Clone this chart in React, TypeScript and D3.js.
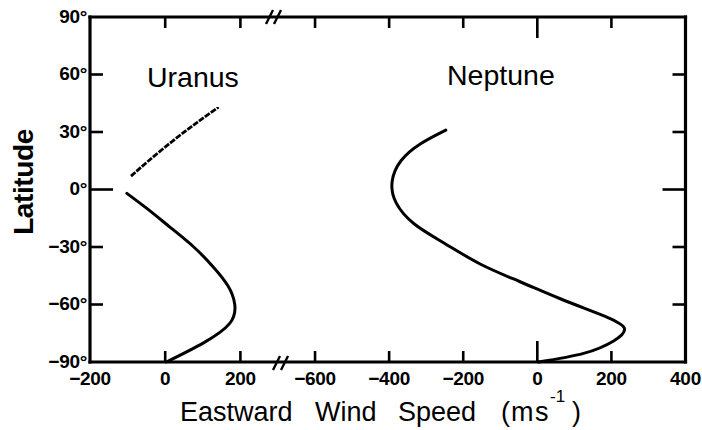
import React from "react";
import * as d3 from "d3";

// latitudes (deg) and eastward wind (m/s)
const uranusNorthLat = [7, 15, 25, 34, 43];
const uranusNorthWind = [-91, -44, 18, 78, 142];

const uranusSouthLat = [-2, -10, -20, -30, -40, -50, -60, -70, -80, -90];
const uranusSouthWind = [-102, -48, 15, 76, 126, 166, 185, 171, 102, 3];

const neptuneLat = [31, 24, 15, 4, -7, -18, -28, -39, -48, -57, -65, -72, -79, -85.5, -90];
const neptuneWind = [-247, -314, -368, -392, -381, -332, -251, -153, -48, 62, 168, 234, 206, 125, 3];

const latTicks = [-90, -60, -30, 0, 30, 60, 90];
const leftTicks = [-200, 0, 200];
const rightTicks = [-600, -400, -200, 0, 200, 400];

const W = 702;
const H = 430;
const TOP = 17;
const BOTTOM = 362;
const LEFT = 90;
const RIGHT = 685.5;
const BREAK_X = 278;

const FONT = "'Liberation Sans', Arial, Helvetica, sans-serif";

const xLeft = d3.scaleLinear().domain([-200, 300]).range([LEFT, BREAK_X]);
const xRight = d3.scaleLinear().domain([-700, 400]).range([BREAK_X, RIGHT]);
const y = d3.scaleLinear().domain([-90, 90]).range([BOTTOM, TOP]);

const fmtLat = (d: number) => (d < 0 ? "\u2212" + Math.abs(d) : String(d)) + "\u00b0";
const fmtWind = (d: number) => (d < 0 ? "\u2212" + Math.abs(d) : String(d));

function curve(xs: d3.ScaleLinear<number, number>, lats: number[], winds: number[]) {
  const pts: [number, number][] = lats.map((l, i) => [xs(winds[i]), y(l)]);
  return d3.line().curve(d3.curveNatural)(pts) || "";
}

function Slashes({ cx, cy }: { cx: number; cy: number }) {
  return (
    <g stroke="#000" strokeWidth={2.4}>
      <line x1={cx - 8} y1={cy + 7} x2={cx - 1} y2={cy - 7} />
      <line x1={cx} y1={cy + 7} x2={cx + 7} y2={cy - 7} />
    </g>
  );
}

export default function App() {
  const tickLen = 11;
  const longTick = 21;

  const innerLeft = leftTicks.filter((t) => t > -200);
  const innerRight = rightTicks.filter((t) => t < 400);
  const innerLat = latTicks.filter((t) => t > -90 && t < 90);

  return (
    <svg
      width={W}
      height={H}
      style={{ position: "absolute", left: 0, top: 0, background: "#fff" }}
      fontFamily={FONT}
    >
      {/* frame */}
      <g stroke="#000" strokeWidth={3.2} fill="none" strokeLinecap="square">
        <line x1={LEFT} y1={TOP} x2={RIGHT} y2={TOP} />
        <line x1={LEFT} y1={BOTTOM} x2={RIGHT} y2={BOTTOM} />
        <line x1={LEFT} y1={TOP} x2={LEFT} y2={BOTTOM} />
        <line x1={RIGHT} y1={TOP} x2={RIGHT} y2={BOTTOM} />
      </g>

      {/* x ticks, top and bottom, pointing inward */}
      <g stroke="#000" strokeWidth={2.6}>
        {innerLeft.map((t) => (
          <g key={"l" + t}>
            <line x1={xLeft(t)} x2={xLeft(t)} y1={TOP} y2={TOP + tickLen} />
            <line x1={xLeft(t)} x2={xLeft(t)} y1={BOTTOM} y2={BOTTOM - tickLen} />
          </g>
        ))}
        {innerRight.map((t) => {
          const len = t === 0 ? longTick : tickLen;
          return (
            <g key={"r" + t}>
              <line x1={xRight(t)} x2={xRight(t)} y1={TOP} y2={TOP + len} />
              <line x1={xRight(t)} x2={xRight(t)} y1={BOTTOM} y2={BOTTOM - len} />
            </g>
          );
        })}
        {innerLat.map((t) => {
          const len = t === 0 ? longTick + 2 : tickLen + 2;
          return (
            <g key={"y" + t}>
              <line x1={LEFT} x2={LEFT + len} y1={y(t)} y2={y(t)} />
              <line x1={RIGHT} x2={RIGHT - len} y1={y(t)} y2={y(t)} />
            </g>
          );
        })}
      </g>

      {/* axis breaks */}
      <Slashes cx={BREAK_X - 4} cy={TOP} />
      <Slashes cx={BREAK_X + 3} cy={BOTTOM + 1} />

      {/* tick labels */}
      <g fontWeight="bold" fontSize={19} letterSpacing={-0.3} fill="#000">
        {latTicks.map((t) => (
          <text key={"yl" + t} x={87} y={y(t) - 1} dy="0.35em" textAnchor="end">
            {fmtLat(t)}
          </text>
        ))}
        {leftTicks.map((t) => (
          <text key={"xl" + t} x={xLeft(t)} y={385} textAnchor="middle">
            {fmtWind(t)}
          </text>
        ))}
        {rightTicks.map((t) => (
          <text key={"xr" + t} x={xRight(t)} y={385} textAnchor="middle">
            {fmtWind(t)}
          </text>
        ))}
      </g>

      {/* profiles */}
      <g fill="none" stroke="#000" strokeWidth={3} strokeLinecap="round">
        <path d={curve(xLeft, uranusNorthLat, uranusNorthWind)} strokeDasharray="6 1.3" strokeLinecap="butt" strokeWidth={2.8} />
        <path d={curve(xLeft, uranusSouthLat, uranusSouthWind)} />
        <path d={curve(xRight, neptuneLat, neptuneWind)} />
      </g>

      {/* planet names */}
      <text x={147} y={87} fontSize={28.5} fill="#000">Uranus</text>
      <text x={447} y={85} fontSize={28.5} fill="#000">Neptune</text>

      {/* axis titles */}
      <text
        transform={`translate(33,182) rotate(-90)`}
        textAnchor="middle"
        fontSize={28}
        fontWeight="bold"
        letterSpacing={-0.4}
        fill="#000"
      >
        Latitude
      </text>
      <text y={421} fontSize={27} fill="#000">
        <tspan x={180}>Eastward</tspan>
        <tspan x={315}>Wind</tspan>
        <tspan x={398}>Speed</tspan>
        <tspan x={501}>(</tspan>
        <tspan x={511}>m</tspan>
        <tspan x={535}>s</tspan>
        <tspan x={550} y={402} fontSize={17}>-1</tspan>
        <tspan x={572} y={421}>)</tspan>
      </text>
    </svg>
  );
}
